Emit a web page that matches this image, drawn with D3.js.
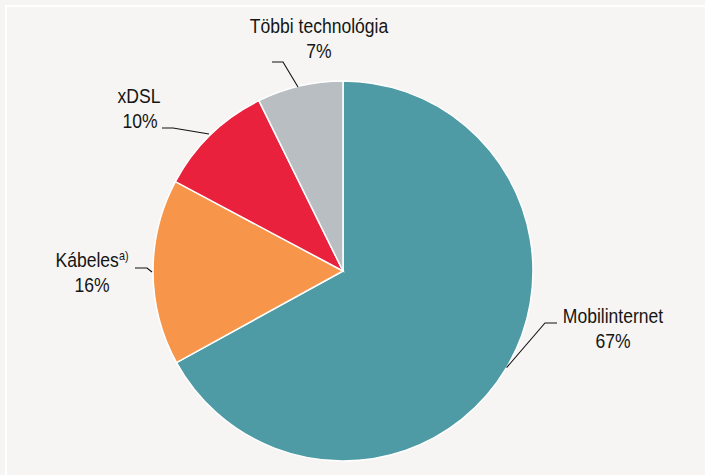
<!DOCTYPE html>
<html><head><meta charset="utf-8">
<script src="https://cdn.jsdelivr.net/npm/d3@7"></script>
<style>html,body{margin:0;padding:0;background:#F6F5F3;}svg{display:block;}</style>
</head><body>
<svg id="c" width="705" height="475"></svg>
<script>
const categories = ["Mobilinternet", "Kábeles", "xDSL", "Többi technológia"];
const values = [67.0, 15.8, 9.9, 7.3];
const valueLabels = ["67%", "16%", "10%", "7%"];
const colors = ["#4E9BA5", "#F7964A", "#E9213C", "#B9BEC2"];

const svg = d3.select("#c");
svg.append("rect").attr("width",705).attr("height",475).attr("fill","#F6F5F3");
svg.append("path").attr("d","M6,475V6H705").attr("fill","none").attr("stroke","#fff").attr("stroke-width",2);

const cx = 343, cy = 271, R = 190;
const g = svg.append("g").attr("transform",`translate(${cx},${cy})`);
const pie = d3.pie().sort(null).value(d=>d)(values);
const arc = d3.arc().innerRadius(0).outerRadius(R);
g.selectAll("path.s").data(pie).join("path").attr("class","s")
  .attr("d",arc).attr("fill",(d,i)=>colors[i]).attr("stroke","#fff").attr("stroke-width",1.5);

const layout = [
  {a:0.5, elbow:[545,323], end:[557,323], tx:613, ty:323, vx:613},
  {a:null, edge:[152,272], elbow:[147,268], end:[135,268], tx:92, ty:267, vx:92, sup:true},
  {a:null, edge:[209,134], elbow:[173,128], end:[162,128], tx:139, ty:103, vx:140},
  {a:null, edge:[298,87], elbow:[283,62], end:[272,62], tx:319, ty:33, vx:319}
];
const sx = 0.9;
function label(x, y, fn){
  const t = svg.append("g").attr("transform",`translate(${x},${y}) scale(${sx},1)`)
    .append("text").attr("x",0).attr("y",0).attr("text-anchor","middle")
    .attr("font-family","Liberation Sans, Arial, sans-serif").attr("font-size",19.5).attr("fill","#151515");
  fn(t);
}
pie.forEach((d,i)=>{
  const L = layout[i];
  let p0;
  if (L.a !== null) {
    const ang = d.startAngle + (d.endAngle-d.startAngle)*L.a;
    p0 = [cx + R*Math.sin(ang), cy - R*Math.cos(ang)];
  } else p0 = L.edge;
  svg.append("polyline").attr("points",[p0,L.elbow,L.end].map(p=>p.join(",")).join(" "))
    .attr("fill","none").attr("stroke","#111").attr("stroke-width",1.1);
  label(L.tx, L.ty, t=>{
    t.append("tspan").text(categories[i]);
    if (L.sup) t.append("tspan").attr("font-size",12).attr("dy",-7).text("a)");
  });
  label(L.vx, L.ty+25, t=>t.text(valueLabels[i]));
});
</script>
</body></html>
